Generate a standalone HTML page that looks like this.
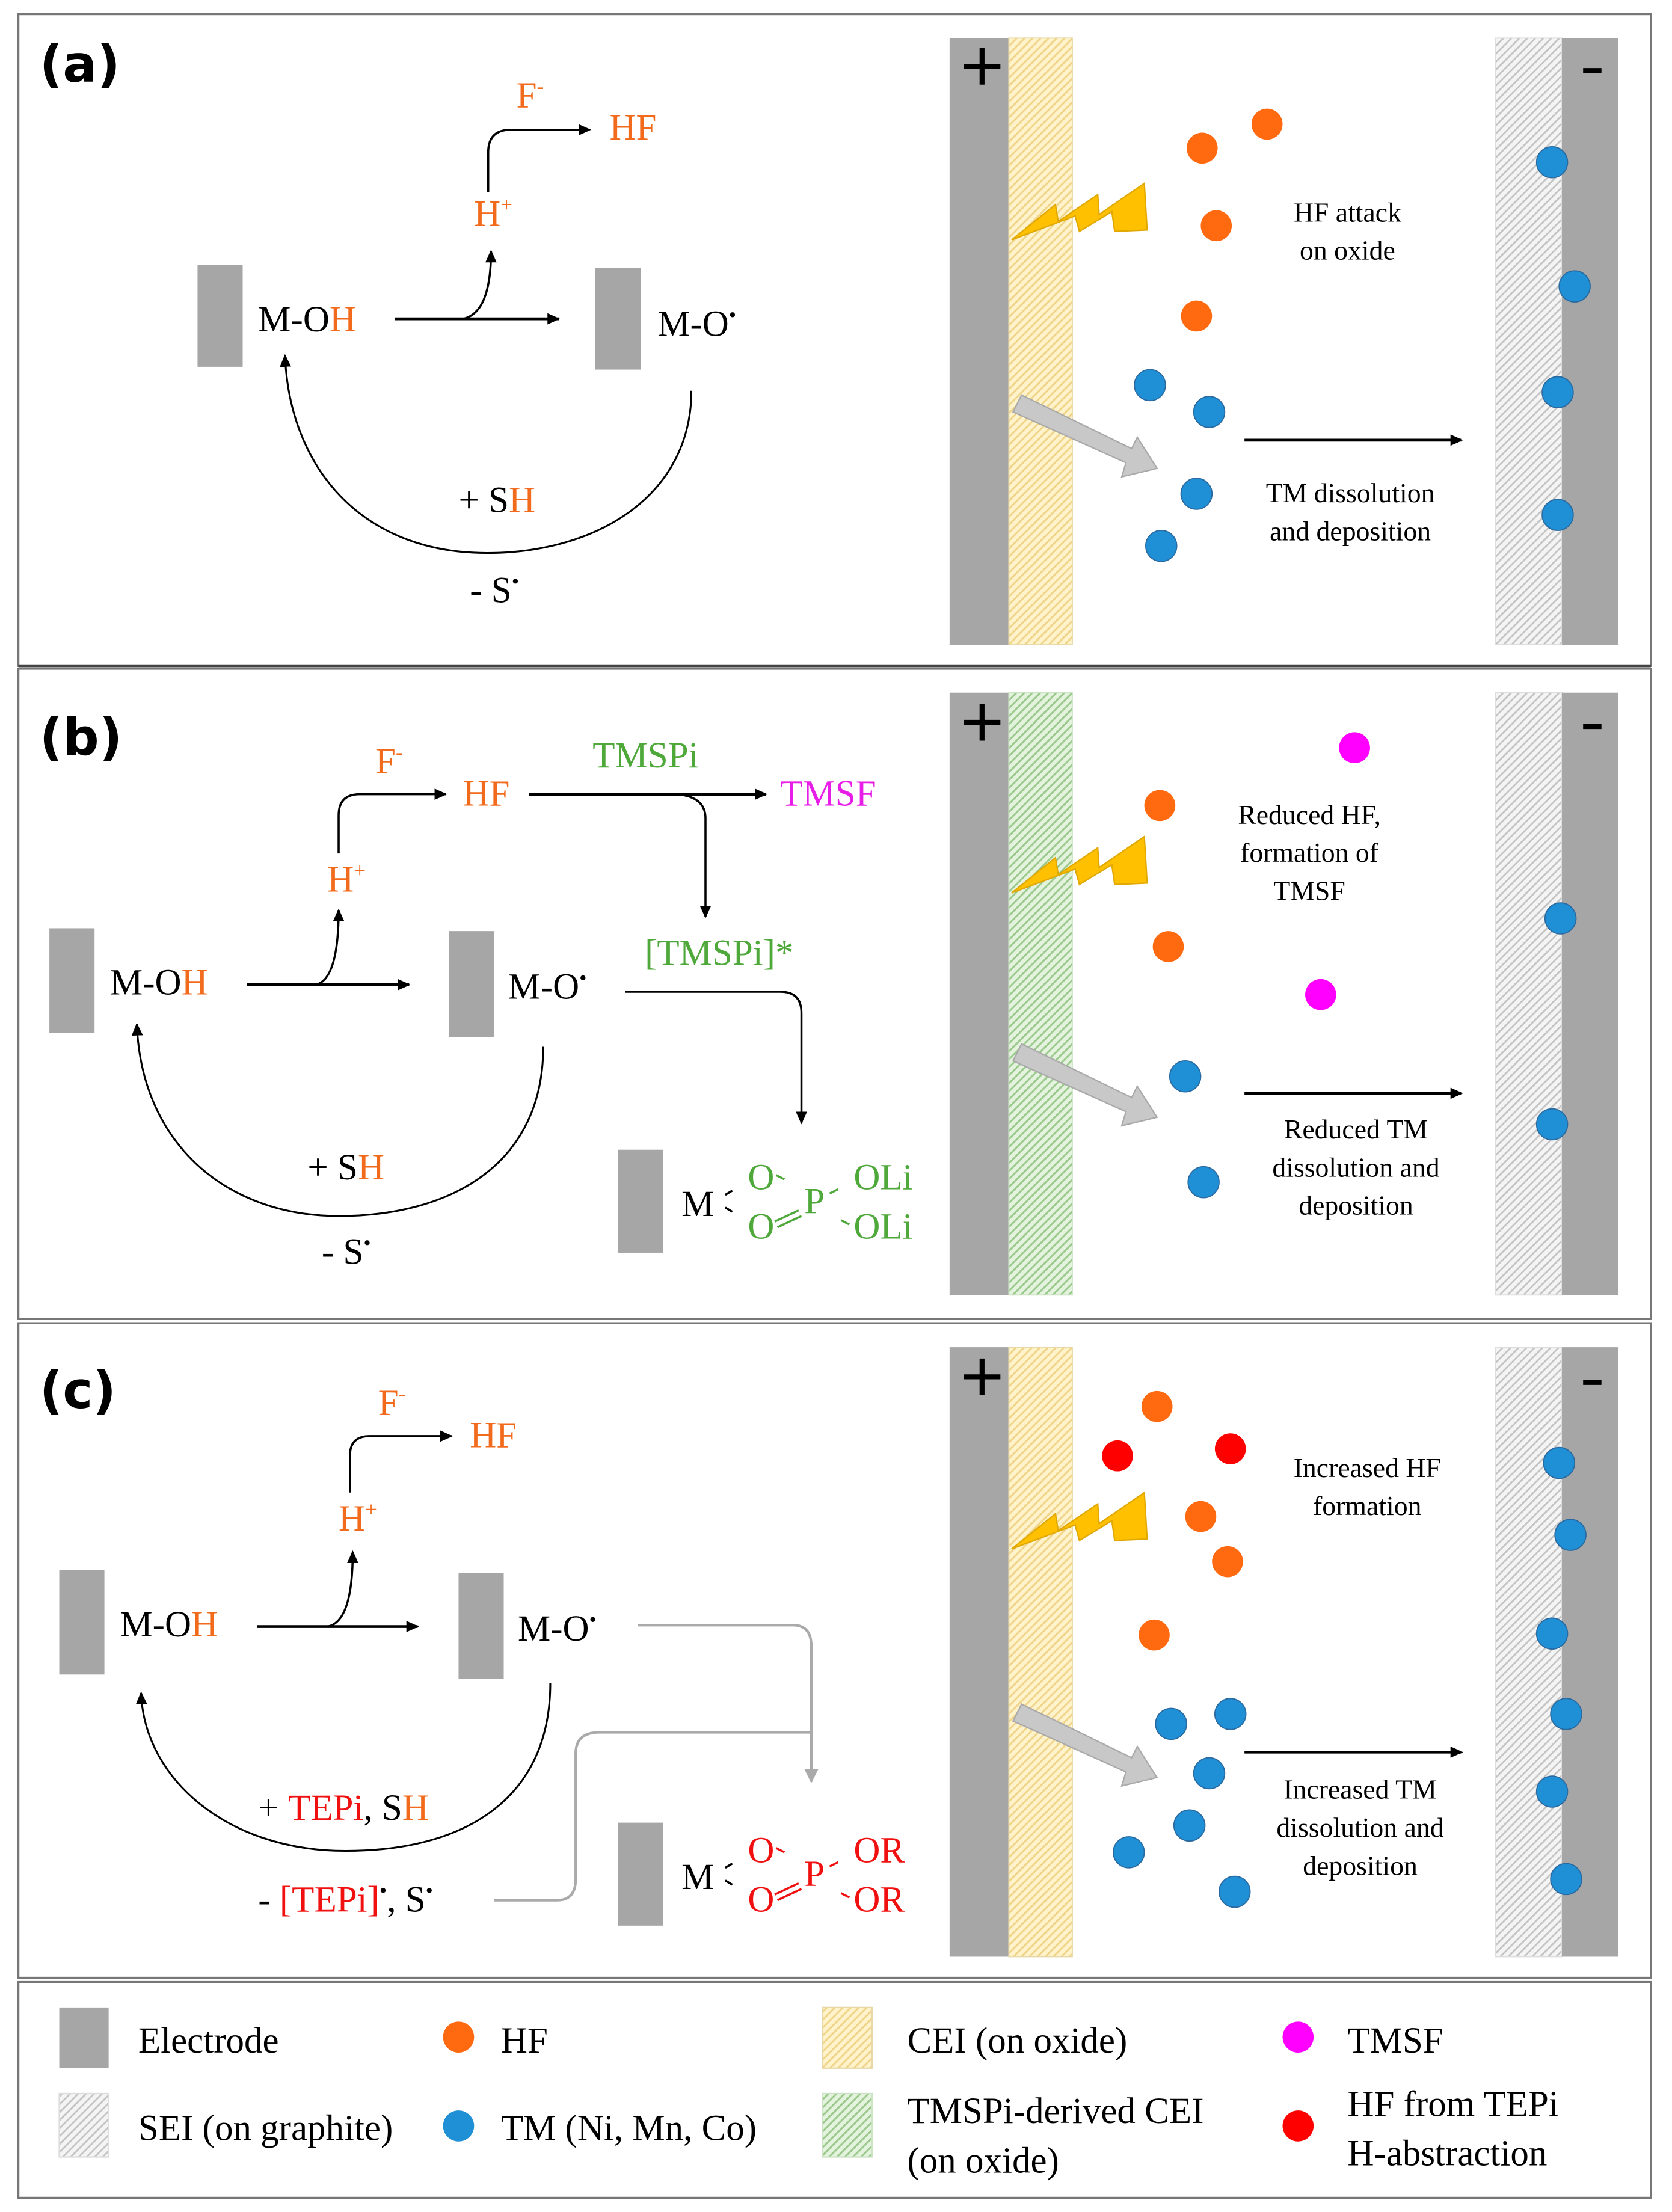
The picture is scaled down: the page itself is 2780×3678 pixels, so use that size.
<!DOCTYPE html>
<html><head><meta charset="utf-8"><style>
html,body{margin:0;padding:0;background:#fff}
svg{display:block}
.s{font-family:"Liberation Serif",serif;font-size:26px}
.t{font-family:"Liberation Serif",serif;font-size:19.5px;text-anchor:middle}
.l{font-family:"DejaVu Sans",sans-serif;font-weight:bold;font-size:36px}
.o{fill:#f26b1d}.g{fill:#4ea83a}.r{fill:#f01010}.m{fill:#e81ee8}
</style></head><body>
<svg width="2780" height="3678" viewBox="0 0 1185 1568" preserveAspectRatio="none" xmlns="http://www.w3.org/2000/svg">
<defs>
<marker id="ar" markerWidth="10" markerHeight="10" refX="8" refY="5" orient="auto" markerUnits="userSpaceOnUse"><path d="M0,1 L9,5 L0,9 z" fill="#000"/></marker>
<marker id="ag" markerWidth="12" markerHeight="12" refX="9" refY="6" orient="auto" markerUnits="userSpaceOnUse"><path d="M0,1 L10,6 L0,11 z" fill="#aaa"/></marker>
<pattern id="py" width="4" height="4" patternUnits="userSpaceOnUse" patternTransform="rotate(45)"><rect width="4" height="4" fill="#fff3cc"/><rect width="1.3" height="4" fill="#f0d48a"/></pattern>
<pattern id="pg" width="4" height="4" patternUnits="userSpaceOnUse" patternTransform="rotate(45)"><rect width="4" height="4" fill="#e3f3dd"/><rect width="1.3" height="4" fill="#9cc98e"/></pattern>
<pattern id="ps" width="4" height="4" patternUnits="userSpaceOnUse" patternTransform="rotate(45)"><rect width="4" height="4" fill="#f4f4f4"/><rect width="1.2" height="4" fill="#c4c4c4"/></pattern>
</defs>
<rect width="1185" height="1568" fill="#fff"/>
<g fill="none" stroke="#777" stroke-width="1.5">
<rect x="13" y="10" width="1157" height="462"/>
<rect x="13" y="474" width="1157" height="461"/>
<rect x="13" y="938" width="1157" height="464"/>
<rect x="13" y="1405" width="1157" height="153"/>
</g>
<line x1="13" y1="472" x2="1170" y2="472" stroke="#444" stroke-width="2"/>

<!-- Panel a left -->
<text class="l" x="28" y="58">(a)</text>
<rect x="140" y="188" width="32" height="72" fill="#a6a6a6"/>
<text class="s" x="183" y="235">M-O<tspan class="o">H</tspan></text>
<line x1="280" y1="226" x2="396" y2="226" stroke="#000" stroke-width="2" marker-end="url(#ar)"/>
<path d="M328,226 Q348,222 348,178" fill="none" stroke="#000" stroke-width="1.5" marker-end="url(#ar)"/>
<text class="s o" x="336" y="160">H<tspan font-size="15" dy="-10">+</tspan></text>
<path d="M346,136 L346,108 Q346,92 362,92 L418,92" fill="none" stroke="#000" stroke-width="1.5" marker-end="url(#ar)"/>
<text class="s o" x="366" y="76">F<tspan font-size="15" dy="-10">-</tspan></text>
<text class="s o" x="432" y="99">HF</text>
<rect x="422" y="190" width="32" height="72" fill="#a6a6a6"/>
<text class="s" x="466" y="238">M-O<tspan font-size="15" dy="-10">•</tspan></text>
<path d="M490,277 C490,350 425,392 345,392 C255,392 205,330 202,252" fill="none" stroke="#000" stroke-width="1.3" marker-end="url(#ar)"/>
<text class="s" x="325" y="363">+ S<tspan class="o">H</tspan></text>
<text class="s" x="333" y="427">- S<tspan font-size="15" dy="-10">•</tspan></text>

<!-- Panel b left -->
<text class="l" x="28" y="535">(b)</text>
<rect x="35" y="658" width="32" height="74" fill="#a6a6a6"/>
<text class="s" x="78" y="705">M-O<tspan class="o">H</tspan></text>
<line x1="175" y1="698" x2="290" y2="698" stroke="#000" stroke-width="2" marker-end="url(#ar)"/>
<path d="M224,698 Q240,694 240,645" fill="none" stroke="#000" stroke-width="1.5" marker-end="url(#ar)"/>
<text class="s o" x="232" y="632">H<tspan font-size="15" dy="-10">+</tspan></text>
<path d="M240,605 L240,578 Q240,563 255,563 L316,563" fill="none" stroke="#000" stroke-width="1.5" marker-end="url(#ar)"/>
<text class="s o" x="266" y="548">F<tspan font-size="15" dy="-10">-</tspan></text>
<text class="s o" x="328" y="571">HF</text>
<line x1="375" y1="563" x2="543" y2="563" stroke="#000" stroke-width="2" marker-end="url(#ar)"/>
<path d="M480,563 Q500,565 500,580 L500,650" fill="none" stroke="#000" stroke-width="1.5" marker-end="url(#ar)"/>
<text class="s g" x="420" y="544">TMSPi</text>
<text class="s m" x="553" y="571">TMSF</text>
<text class="s g" x="457" y="684">[TMSPi]*</text>
<rect x="318" y="660" width="32" height="75" fill="#a6a6a6"/>
<text class="s" x="360" y="708">M-O<tspan font-size="15" dy="-10">•</tspan></text>
<path d="M443,703 L553,703 Q568,703 568,718 L568,796" fill="none" stroke="#000" stroke-width="1.5" marker-end="url(#ar)"/>
<path d="M385,742 C385,825 320,862 240,862 C160,862 100,810 97,726" fill="none" stroke="#000" stroke-width="1.3" marker-end="url(#ar)"/>
<text class="s" x="218" y="836">+ S<tspan class="o">H</tspan></text>
<text class="s" x="228" y="896">- S<tspan font-size="15" dy="-10">•</tspan></text>
<rect x="438" y="815" width="32" height="73" fill="#a6a6a6"/>
<text class="s" x="483" y="862">M</text>
<g stroke="#000" stroke-width="1.5"><line x1="514" y1="847" x2="519" y2="844"/><line x1="514" y1="856" x2="519" y2="859"/></g>
<text class="s g" x="530" y="843">O</text>
<text class="s g" x="530" y="878">O</text>
<text class="s g" x="570" y="860">P</text>
<text class="s g" x="605" y="843">OLi</text>
<text class="s g" x="605" y="878">OLi</text>
<g stroke="#4ea83a" stroke-width="1.5">
<line x1="550" y1="833" x2="556" y2="836"/><line x1="588" y1="846" x2="594" y2="843"/>
<line x1="596" y1="865" x2="602" y2="868"/>
<line x1="549" y1="866" x2="566" y2="858"/><line x1="551" y1="870" x2="568" y2="862"/>
</g>

<!-- Panel c left -->
<text class="l" x="28" y="998">(c)</text>
<rect x="42" y="1113" width="32" height="74" fill="#a6a6a6"/>
<text class="s" x="85" y="1160">M-O<tspan class="o">H</tspan></text>
<line x1="182" y1="1153" x2="296" y2="1153" stroke="#000" stroke-width="2" marker-end="url(#ar)"/>
<path d="M232,1153 Q250,1150 250,1100" fill="none" stroke="#000" stroke-width="1.5" marker-end="url(#ar)"/>
<text class="s o" x="240" y="1085">H<tspan font-size="15" dy="-10">+</tspan></text>
<path d="M248,1058 L248,1032 Q248,1018 262,1018 L320,1018" fill="none" stroke="#000" stroke-width="1.5" marker-end="url(#ar)"/>
<text class="s o" x="268" y="1003">F<tspan font-size="15" dy="-10">-</tspan></text>
<text class="s o" x="333" y="1026">HF</text>
<rect x="325" y="1115" width="32" height="75" fill="#a6a6a6"/>
<text class="s" x="367" y="1163">M-O<tspan font-size="15" dy="-10">•</tspan></text>
<path d="M452,1152 L562,1152 Q575,1152 575,1167 L575,1263" fill="none" stroke="#aaa" stroke-width="1.8" marker-end="url(#ag)"/>
<path d="M350,1347 L395,1347 Q408,1347 408,1332 L408,1243 Q408,1228 425,1228 L575,1228" fill="none" stroke="#aaa" stroke-width="1.8"/>
<path d="M390,1193 C390,1275 330,1312 245,1312 C160,1312 102,1260 100,1200" fill="none" stroke="#000" stroke-width="1.3" marker-end="url(#ar)"/>
<text class="s" x="183" y="1290">+ <tspan class="r">TEPi</tspan>, S<tspan class="o">H</tspan></text>
<text class="s" x="183" y="1355">- <tspan class="r">[TEPi]</tspan><tspan font-size="15" dy="-10">•</tspan><tspan dy="10">, S</tspan><tspan font-size="15" dy="-10">•</tspan></text>
<rect x="438" y="1292" width="32" height="73" fill="#a6a6a6"/>
<text class="s" x="483" y="1339">M</text>
<g stroke="#000" stroke-width="1.5"><line x1="514" y1="1324" x2="519" y2="1321"/><line x1="514" y1="1333" x2="519" y2="1336"/></g>
<text class="s r" x="530" y="1320">O</text>
<text class="s r" x="530" y="1355">O</text>
<text class="s r" x="570" y="1337">P</text>
<text class="s r" x="605" y="1320">OR</text>
<text class="s r" x="605" y="1355">OR</text>
<g stroke="#f01010" stroke-width="1.5">
<line x1="550" y1="1310" x2="556" y2="1313"/><line x1="588" y1="1323" x2="594" y2="1320"/>
<line x1="596" y1="1342" x2="602" y2="1345"/>
<line x1="549" y1="1343" x2="566" y2="1335"/><line x1="551" y1="1347" x2="568" y2="1339"/>
</g>

<!-- Right side panels -->
<rect x="673" y="27" width="42" height="430" fill="#a6a6a6"/>
<rect x="715" y="27" width="45" height="430" fill="url(#py)" stroke="#e8d8a8" stroke-width="0.8"/>
<rect x="1060" y="27" width="47" height="430" fill="url(#ps)" stroke="#ddd" stroke-width="0.8"/>
<rect x="1107" y="27" width="40" height="430" fill="#a6a6a6"/>
<rect x="673" y="491" width="42" height="427" fill="#a6a6a6"/>
<rect x="715" y="491" width="45" height="427" fill="url(#pg)" stroke="#cde3c5" stroke-width="0.8"/>
<rect x="1060" y="491" width="47" height="427" fill="url(#ps)" stroke="#ddd" stroke-width="0.8"/>
<rect x="1107" y="491" width="40" height="427" fill="#a6a6a6"/>
<rect x="673" y="955" width="42" height="432" fill="#a6a6a6"/>
<rect x="715" y="955" width="45" height="432" fill="url(#py)" stroke="#e8d8a8" stroke-width="0.8"/>
<rect x="1060" y="955" width="47" height="432" fill="url(#ps)" stroke="#ddd" stroke-width="0.8"/>
<rect x="1107" y="955" width="40" height="432" fill="#a6a6a6"/>

<g stroke="#000" stroke-width="3.5">
<line x1="683" y1="47" x2="709" y2="47"/><line x1="696" y1="34" x2="696" y2="60"/>
<line x1="683" y1="512" x2="709" y2="512"/><line x1="696" y1="499" x2="696" y2="525"/>
<line x1="683" y1="976" x2="709" y2="976"/><line x1="696" y1="963" x2="696" y2="989"/>
<line x1="1122" y1="50" x2="1135" y2="50"/><line x1="1122" y1="515" x2="1135" y2="515"/><line x1="1122" y1="980" x2="1135" y2="980"/>
</g>

<g fill="#ffc000" stroke="#e0a800" stroke-width="1">
<path d="M717,170 L748,145 L750,157 L778,138 L779,152 L811,130 L813,163 L790,164 L788,150 L765,164 L762,153 Z"/>
<path d="M717,633 L748,608 L750,620 L778,601 L779,615 L811,593 L813,626 L790,627 L788,613 L765,627 L762,616 Z"/>
<path d="M717,1098 L748,1073 L750,1085 L778,1066 L779,1080 L811,1058 L813,1091 L790,1092 L788,1078 L765,1092 L762,1081 Z"/>
</g>
<g fill="#c8c8c8" stroke="#aaa" stroke-width="1">
<path d="M718,292 L724,280 L802,318 L806,310 L820,332 L795,338 L798,328 Z"/>
<path d="M718,752 L724,740 L802,778 L806,770 L820,792 L795,798 L798,788 Z"/>
<path d="M718,1220 L724,1208 L802,1246 L806,1238 L820,1260 L795,1266 L798,1256 Z"/>
</g>
<g stroke="#000" stroke-width="2" marker-end="url(#ar)">
<line x1="882" y1="312" x2="1036" y2="312"/>
<line x1="882" y1="775" x2="1036" y2="775"/>
<line x1="882" y1="1242" x2="1036" y2="1242"/>
</g>

<g fill="#ff6a10"><circle cx="852" cy="105" r="11"/><circle cx="898" cy="88" r="11"/><circle cx="862" cy="160" r="11"/><circle cx="848" cy="224" r="11"/>
<circle cx="822" cy="571" r="11"/><circle cx="828" cy="671" r="11"/>
<circle cx="820" cy="997" r="11"/><circle cx="851" cy="1075" r="11"/><circle cx="870" cy="1107" r="11"/><circle cx="818" cy="1159" r="11"/></g>
<g fill="#ff00ff"><circle cx="960" cy="530" r="11"/><circle cx="936" cy="705" r="11"/></g>
<g fill="#ff0000"><circle cx="792" cy="1032" r="11"/><circle cx="872" cy="1027" r="11"/></g>
<g fill="#1f8fd6" stroke="#2a6aa0" stroke-width="0.8">
<circle cx="815" cy="273" r="11"/><circle cx="857" cy="292" r="11"/><circle cx="848" cy="350" r="11"/><circle cx="823" cy="387" r="11"/>
<circle cx="1100" cy="115" r="11"/><circle cx="1116" cy="203" r="11"/><circle cx="1104" cy="278" r="11"/><circle cx="1104" cy="365" r="11"/>
<circle cx="840" cy="763" r="11"/><circle cx="853" cy="838" r="11"/><circle cx="1106" cy="651" r="11"/><circle cx="1100" cy="797" r="11"/>
<circle cx="830" cy="1222" r="11"/><circle cx="872" cy="1215" r="11"/><circle cx="857" cy="1257" r="11"/><circle cx="843" cy="1294" r="11"/><circle cx="800" cy="1313" r="11"/><circle cx="875" cy="1341" r="11"/>
<circle cx="1105" cy="1037" r="11"/><circle cx="1113" cy="1088" r="11"/><circle cx="1100" cy="1158" r="11"/><circle cx="1110" cy="1215" r="11"/><circle cx="1100" cy="1270" r="11"/><circle cx="1110" cy="1332" r="11"/>
</g>

<text class="t" x="955" y="157">HF attack</text><text class="t" x="955" y="184">on oxide</text>
<text class="t" x="957" y="356">TM dissolution</text><text class="t" x="957" y="383">and deposition</text>
<text class="t" x="928" y="584">Reduced HF,</text><text class="t" x="928" y="611">formation of</text><text class="t" x="928" y="638">TMSF</text>
<text class="t" x="961" y="807">Reduced TM</text><text class="t" x="961" y="834">dissolution and</text><text class="t" x="961" y="861">deposition</text>
<text class="t" x="969" y="1047">Increased HF</text><text class="t" x="969" y="1074">formation</text>
<text class="t" x="964" y="1275">Increased TM</text><text class="t" x="964" y="1302">dissolution and</text><text class="t" x="964" y="1329">deposition</text>

<!-- Legend -->
<rect x="42" y="1423" width="35" height="43" fill="#a6a6a6"/>
<text class="s" x="98" y="1455">Electrode</text>
<circle cx="325" cy="1444" r="11" fill="#ff6a10"/>
<text class="s" x="355" y="1455">HF</text>
<rect x="583" y="1423" width="35" height="43" fill="url(#py)" stroke="#e8d8a8"/>
<text class="s" x="643" y="1455">CEI (on oxide)</text>
<circle cx="920" cy="1444" r="11" fill="#ff00ff"/>
<text class="s" x="955" y="1455">TMSF</text>
<rect x="42" y="1484" width="35" height="45" fill="url(#ps)" stroke="#ddd"/>
<text class="s" x="98" y="1517">SEI (on graphite)</text>
<circle cx="325" cy="1507" r="11" fill="#1f8fd6"/>
<text class="s" x="355" y="1517">TM (Ni, Mn, Co)</text>
<rect x="583" y="1484" width="35" height="45" fill="url(#pg)" stroke="#cde3c5"/>
<text class="s" x="643" y="1505">TMSPi-derived CEI</text>
<text class="s" x="643" y="1540">(on oxide)</text>
<circle cx="920" cy="1507" r="11" fill="#ff0000"/>
<text class="s" x="955" y="1500">HF from TEPi</text>
<text class="s" x="955" y="1535">H-abstraction</text>
</svg>
</body></html>
